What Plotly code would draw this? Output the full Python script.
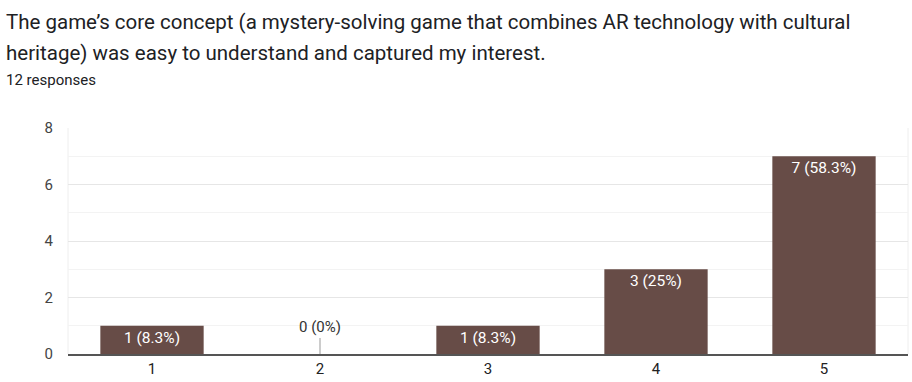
import plotly.graph_objects as go

categories = ["1", "2", "3", "4", "5"]
counts = [1, 0, 1, 3, 7]
labels = ["1 (8.3%)", "0 (0%)", "1 (8.3%)", "3 (25%)", "7 (58.3%)"]
title_line1 = "The game’s core concept (a mystery-solving game that combines AR technology with cultural"
title_line2 = "heritage) was easy to understand and captured my interest."
subtitle = "12 responses"

bar_color = "#674c47"

fig = go.Figure()
fig.add_trace(go.Bar(
    x=categories,
    y=counts,
    text=[l if c > 0 else "" for l, c in zip(labels, counts)],
    textposition="inside",
    insidetextanchor="end",
    textfont=dict(family="Roboto", size=15.5, color="white"),
    marker=dict(color=bar_color, line=dict(width=0)),
    hoverinfo="skip",
))

for i, (cat, c, l) in enumerate(zip(categories, counts, labels)):
    if c == 0:
        fig.add_annotation(
            x=i, y=c, xref="x", yref="y",
            text=l, showarrow=True, arrowhead=0, arrowwidth=1,
            arrowcolor="#999999", ax=0, ay=-16,
            font=dict(family="Roboto", size=15, color="#333333"),
            yanchor="bottom",
        )

title_x = -64 / 840
fig.add_annotation(xref="paper", yref="paper", x=title_x, y=1.0, xanchor="left",
                   yanchor="middle", yshift=106, text=title_line1, showarrow=False,
                   font=dict(family="Roboto", size=20.5, color="#202124"))
fig.add_annotation(xref="paper", yref="paper", x=title_x, y=1.0, xanchor="left",
                   yanchor="middle", yshift=75, text=title_line2, showarrow=False,
                   font=dict(family="Roboto", size=20.5, color="#202124"))
fig.add_annotation(xref="paper", yref="paper", x=title_x, y=1.0, xanchor="left",
                   yanchor="middle", yshift=48, text=subtitle, showarrow=False,
                   font=dict(family="Roboto", size=15, color="#202124"))

fig.update_layout(
    width=912, height=382,
    margin=dict(l=68, r=4, t=128, b=26),
    paper_bgcolor="white", plot_bgcolor="white",
    showlegend=False,
    bargap=0.385,
    xaxis=dict(
        type="category",
        showgrid=False,
        showline=True, linecolor="#555555", linewidth=2,
        ticks="", tickfont=dict(family="Roboto", size=15, color="#222222"),
        mirror=False,
    ),
    yaxis=dict(
        range=[0, 8],
        tickvals=[0, 2, 4, 6, 8],
        showgrid=True, gridcolor="#e6e6e6", gridwidth=1,
        minor=dict(dtick=1, showgrid=True, gridcolor="#f3f3f3"),
        zeroline=False,
        showline=False,
        ticks="", ticklabelstandoff=14,
        tickfont=dict(family="Roboto", size=15, color="#444444"),
    ),
)

fig.add_shape(type="line", xref="paper", yref="paper", x0=0, x1=0, y0=0, y1=1,
              line=dict(color="#eeeeee", width=1), layer="below")
fig.add_shape(type="line", xref="paper", yref="paper", x0=1, x1=1, y0=0, y1=1,
              line=dict(color="#eeeeee", width=1), layer="below")

fig.write_html("out.html", config={"displayModeBar": False},
               post_script="document.body.style.margin='0';document.body.style.overflow='hidden';")
